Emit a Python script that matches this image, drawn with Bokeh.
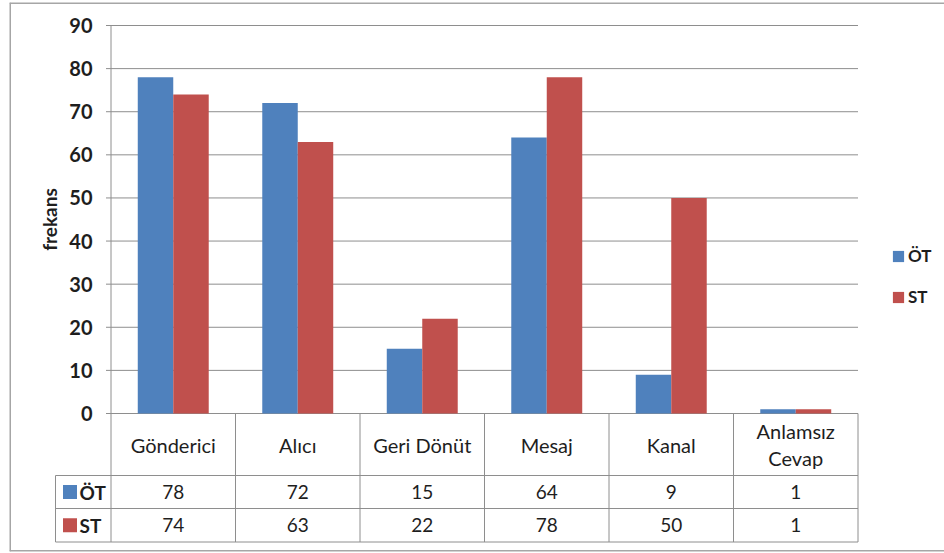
import numpy as np
from bokeh.plotting import figure
from bokeh.models import ColumnDataSource, Legend, LegendItem
from bokeh.core.properties import value
from bokeh.transform import dodge
from bokeh.embed import file_html
from bokeh.resources import INLINE

# ---- data ----
categories = ["Gönderici", "Alıcı", "Geri Dönüt", "Mesaj", "Kanal", "Anlamsız\nCevap"]
series_names = ["ÖT", "ST"]
ot_values = [78, 72, 15, 64, 9, 1]
st_values = [74, 63, 22, 78, 50, 1]
y_ticks = [0, 10, 20, 30, 40, 50, 60, 70, 80, 90]
y_label = "frekans"

# ---- style ----
BLUE, RED = "#4F81BD", "#C0504D"
LINE = "#8e8e8e"
TEXT = "#1e1e1e"
FONT = value("Lato")

# ---- geometry (pixels) ----
W, H = 944, 553
FRAME_LEFT, FRAME_TOP, FRAME_BOTTOM = 9, 2, 551
CAT_LEFT_PX, CAT_PX = 110.5, 124.5      # first category edge, category width
ZERO_PX, UNIT_PX = 413.0, 388.0 / 90.0   # y=0 position, pixels per unit

px_x = lambda v: v / CAT_PX
px_y = lambda v: v / UNIT_PX

x_start = px_x(FRAME_LEFT - CAT_LEFT_PX)
x_end = px_x(W - CAT_LEFT_PX)
y_end = px_y(ZERO_PX - FRAME_TOP)
y_start = px_y(ZERO_PX - FRAME_BOTTOM)

# table rows below the value axis
CAT_B = -px_y(62)
OT_B = -px_y(95)
ST_B = -px_y(128.5)
LEG_X = px_x(55 - CAT_LEFT_PX)

n = len(categories)
centers = np.arange(n) + 0.5

p = figure(width=W, height=H, x_range=(x_start, x_end), y_range=(y_start, y_end),
           output_backend="svg", toolbar_location=None,
           x_axis_location=None, y_axis_location=None,
           min_border_left=FRAME_LEFT, min_border_right=0,
           min_border_top=FRAME_TOP, min_border_bottom=H - FRAME_BOTTOM)
p.grid.visible = False
p.outline_line_color = None
p.background_fill_color = "white"
p.border_fill_color = "white"

# chart border: left, top and bottom edges (the right edge runs past the page)
p.segment(x0=[x_start, x_start, x_start], x1=[x_start, x_end, x_end],
          y0=[y_start, y_end, y_start], y1=[y_end, y_end, y_start],
          line_color="#a6a6a6", line_width=3)

# horizontal gridlines with small outward ticks
tick_len = px_x(5)
p.segment(x0=[-tick_len] * len(y_ticks), x1=[n] * len(y_ticks), y0=y_ticks, y1=y_ticks,
          line_color=LINE, line_width=1)

# data table lines
hx0 = [LEG_X, LEG_X, LEG_X]
hy = [CAT_B, OT_B, ST_B]
p.segment(x0=hx0, x1=[n] * 3, y0=hy, y1=hy, line_color=LINE, line_width=1)
vx = list(range(n + 1)) + [LEG_X]
vy0 = [max(y_ticks)] + [0] * n + [CAT_B]
vy1 = [ST_B] * (n + 2)
p.segment(x0=vx, x1=vx, y0=vy0, y1=vy1, line_color=LINE, line_width=1)

# bars
src = ColumnDataSource(dict(x=centers, ot=ot_values, st=st_values))
bw = 0.285
r_ot = p.vbar(x=dodge("x", -bw / 2), top="ot", bottom=0, width=bw, source=src,
              fill_color=BLUE, line_color=None)
r_st = p.vbar(x=dodge("x", bw / 2), top="st", bottom=0, width=bw, source=src,
              fill_color=RED, line_color=None)

# y tick labels and title
p.text(x=[px_x(92 - CAT_LEFT_PX)] * len(y_ticks), y=y_ticks, text=[str(t) for t in y_ticks],
       text_align="right", text_baseline="middle", text_font=FONT,
       text_font_size="20px", text_font_style="bold", text_color=TEXT)
p.text(x=[px_x(49 - CAT_LEFT_PX)], y=[max(y_ticks) / 2], text=[y_label], angle=np.pi / 2,
       text_align="center", text_baseline="middle", text_font=FONT,
       text_font_size="19px", text_font_style="bold", text_color=TEXT)

# category row
p.text(x=centers, y=[CAT_B / 2] * n, text=categories, text_align="center",
       text_baseline="middle", text_font=FONT, text_font_size="20px",
       text_color=TEXT, text_line_height=1.1)

# value rows
for vals, yb_top, yb_bot in [(ot_values, CAT_B, OT_B), (st_values, OT_B, ST_B)]:
    ym = (yb_top + yb_bot) / 2
    p.text(x=centers, y=[ym] * n, text=[str(v) for v in vals], text_align="center",
           text_baseline="middle", text_font=FONT, text_font_size="19px", text_color=TEXT)

# series keys in the table
row_mid = [(CAT_B + OT_B) / 2, (OT_B + ST_B) / 2]
p.scatter(x=[px_x(69.5 - CAT_LEFT_PX)] * 2, y=row_mid, marker="square", size=14,
          fill_color=[BLUE, RED], line_color=None)
p.text(x=[px_x(79 - CAT_LEFT_PX)] * 2, y=row_mid, text=series_names, text_align="left",
       text_baseline="middle", text_font=FONT, text_font_size="19px",
       text_font_style="bold", text_color=TEXT)

# legend on the right
legend = Legend(items=[LegendItem(label=series_names[0], renderers=[r_ot]),
                       LegendItem(label=series_names[1], renderers=[r_st])],
                location=(882, 244), orientation="vertical",
                border_line_color=None, background_fill_alpha=0,
                padding=0, margin=0, spacing=20,
                glyph_width=14, glyph_height=14, label_standoff=3,
                label_text_font="Lato", label_text_font_size="17px",
                label_text_font_style="bold", label_text_color=TEXT)
p.add_layout(legend)

open("out.html", "w").write(file_html(p, INLINE))
